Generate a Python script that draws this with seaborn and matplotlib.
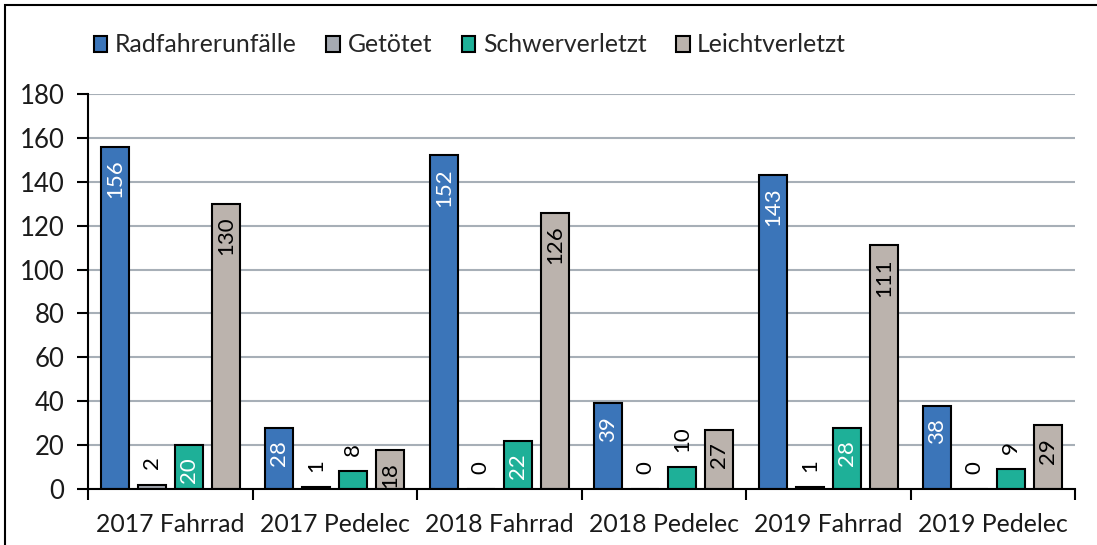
import matplotlib
matplotlib.use("Agg")
import matplotlib.pyplot as plt
import seaborn as sns
import pandas as pd
from matplotlib.patches import Rectangle, Patch
from matplotlib.ticker import MultipleLocator, FixedLocator

categories = ["2017 Fahrrad", "2017 Pedelec", "2018 Fahrrad", "2018 Pedelec", "2019 Fahrrad", "2019 Pedelec"]
series = ["Radfahrerunfälle", "Getötet", "Schwerverletzt", "Leichtverletzt"]
radfahrerunfaelle = [156, 28, 152, 39, 143, 38]
getoetet = [2, 1, 0, 0, 1, 0]
schwerverletzt = [20, 8, 22, 10, 28, 9]
leichtverletzt = [130, 18, 126, 27, 111, 29]
colors = ["#3b75b9", "#a5aab2", "#1eb098", "#bbb3ad"]

values = [radfahrerunfaelle, getoetet, schwerverletzt, leichtverletzt]
rows = []
for s, vals in zip(series, values):
    for c, v in zip(categories, vals):
        rows.append({"Kategorie": c, "Serie": s, "Wert": v})
df = pd.DataFrame(rows)

sns.set_style("white")
plt.rcParams["font.family"] = ["Lato", "DejaVu Sans"]

fig = plt.figure(figsize=(10.97, 5.45), dpi=100)
ax = fig.add_axes([88/1097, 1-489/545, (1075-88)/1097, (489-94)/545])

sns.barplot(data=df, x="Kategorie", y="Wert", hue="Serie", hue_order=series,
            order=categories, palette=colors, saturation=1, width=0.9, gap=0.24,
            edgecolor="black", linewidth=1.5, legend=False, ax=ax, zorder=3)

ax.set_ylim(0, 180)
ax.set_xlim(-0.5, len(categories) - 0.5)
ax.yaxis.set_major_locator(MultipleLocator(20))
ax.grid(axis="y", color="#a7afb7", linewidth=1.5, zorder=0)
ax.set_axisbelow(True)
ax.set_xlabel("")
ax.set_ylabel("")
for side in ["top", "right"]:
    ax.spines[side].set_visible(False)
for side in ["left", "bottom"]:
    ax.spines[side].set_color("black")
    ax.spines[side].set_linewidth(1.5)
    ax.spines[side].set_zorder(4)

ax.tick_params(axis="y", direction="out", length=8, width=1.5, color="black",
               labelsize=18.5, pad=9, labelcolor="#1a1a1a", left=True)
ax.tick_params(axis="x", which="major", length=0, labelsize=17.8, pad=17, labelcolor="#1a1a1a")
ax.xaxis.set_minor_locator(FixedLocator([i - 0.5 for i in range(len(categories) + 1)]))
ax.tick_params(axis="x", which="minor", direction="out", length=8, width=1.5, color="black", bottom=True)

# data labels
for si, cont in enumerate(ax.containers):
    for bar, v in zip(cont, values[si]):
        xc = bar.get_x() + bar.get_width() / 2
        top = bar.get_height()
        inside = (si != 1) and v >= 15
        if inside:
            col = "white" if si in (0, 2) else "black"
            ax.annotate(str(v), (xc, top), xytext=(0, -9), textcoords="offset points",
                        rotation=90, ha="center", va="top", fontsize=16, color=col, zorder=5)
        else:
            ax.annotate(str(v), (xc, top), xytext=(0, 11), textcoords="offset points",
                        rotation=90, ha="center", va="bottom", fontsize=16, color="black", zorder=5)

handles = [Patch(facecolor=c, edgecolor="black", linewidth=1.5) for c in colors]
fig.legend(handles, series, loc="center left", bbox_to_anchor=(84/1097, 1-45/545),
           ncol=4, frameon=False, fontsize=17.8, handlelength=0.55, handleheight=0.65,
           handletextpad=0.3, columnspacing=1.2, borderaxespad=0)

fig.patches.append(Rectangle((5/1097, -0.1), 1.2, 1.1 - 5/545, transform=fig.transFigure,
                             fill=False, edgecolor="black", linewidth=1.5))

fig.savefig("out.png", dpi=100)
